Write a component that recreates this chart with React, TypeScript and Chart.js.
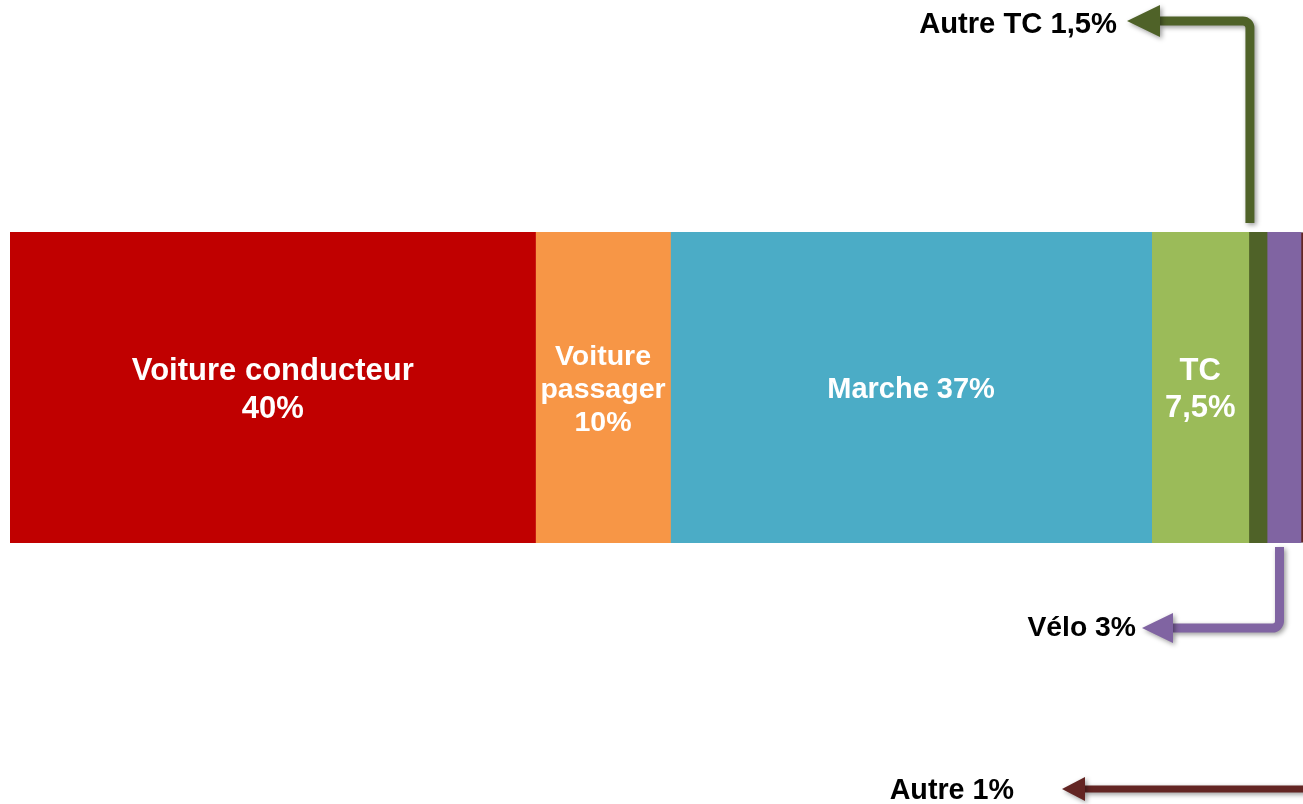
import React, { useEffect, useRef } from "react";
import { Chart, registerables } from "chart.js";

Chart.register(...registerables);

// ---- Data ----
const categories = ["Voiture conducteur", "Voiture passager", "Marche", "TC", "Autre TC", "Vélo", "Autre"];
const shares = [40.3, 10.35, 36.9, 7.45, 1.4, 2.6, 1.0];
const shareLabels = ["40%", "10%", "37%", "7,5%", "1,5%", "3%", "1%"];
const colors = ["#C00000", "#F79646", "#4BACC6", "#9BBB59", "#4F6228", "#8064A2", "#632523"];

// ---- Label layout (styling only) ----
type Inside = { kind: "inside"; wrap: "twoLines" | "words" | "oneLine"; lineHeight: number; size: number };
type Outside = {
  kind: "outside";
  side: "top" | "bottom";
  dxFromCenter: number; // arrow stem offset from segment centre
  stemGap: number; // gap between bar edge and stem end
  turn: number; // distance from bar edge to horizontal arm
  tipX: number; // arrow tip
  textGap: number;
  textDy: number;
  lineWidth: number;
  headLen: number;
  headHalf: number;
  size: number;
};
const labelLayout: (Inside | Outside)[] = [
  { kind: "inside", wrap: "twoLines", lineHeight: 38, size: 31 },
  { kind: "inside", wrap: "words", lineHeight: 33, size: 28.5 },
  { kind: "inside", wrap: "oneLine", lineHeight: 38, size: 29 },
  { kind: "inside", wrap: "twoLines", lineHeight: 37, size: 31 },
  { kind: "outside", side: "top", dxFromCenter: -8, stemGap: 9, turn: 211, tipX: 1127, textGap: 10, textDy: 2, lineWidth: 9, headLen: 33, headHalf: 16, size: 29.2 },
  { kind: "outside", side: "bottom", dxFromCenter: -4.5, stemGap: 4, turn: 85, tipX: 1142, textGap: 6, textDy: -2, lineWidth: 9, headLen: 31, headHalf: 15, size: 28.3 },
  { kind: "outside", side: "bottom", dxFromCenter: 6, stemGap: 4, turn: 246, tipX: 1062, textGap: 48, textDy: 0, lineWidth: 7, headLen: 23, headHalf: 12, size: 28.7 },
];

const FONT_FAMILY = '"Liberation Sans", Arial, Helvetica, sans-serif';

function drawElbowArrow(
  ctx: CanvasRenderingContext2D,
  x0: number,
  y0: number,
  yTurn: number,
  xTip: number,
  color: string,
  lw: number,
  headLen: number,
  headHalf: number
) {
  ctx.save();
  ctx.strokeStyle = color;
  ctx.fillStyle = color;
  ctx.lineWidth = lw;
  ctx.lineCap = "butt";
  ctx.lineJoin = "round";
  ctx.shadowColor = "rgba(0,0,0,0.4)";
  ctx.shadowBlur = 5;
  ctx.shadowOffsetX = 2;
  ctx.shadowOffsetY = 2;
  ctx.beginPath();
  ctx.moveTo(x0, y0);
  ctx.arcTo(x0, yTurn, xTip + headLen, yTurn, 7);
  ctx.lineTo(xTip + headLen - 1, yTurn);
  ctx.stroke();
  ctx.beginPath();
  ctx.moveTo(xTip, yTurn);
  ctx.lineTo(xTip + headLen, yTurn - headHalf);
  ctx.lineTo(xTip + headLen, yTurn + headHalf);
  ctx.closePath();
  ctx.fill();
  ctx.restore();
}

const labelPlugin = {
  id: "segmentLabels",
  afterDatasetsDraw(chart: any) {
    const ctx: CanvasRenderingContext2D = chart.ctx;
    categories.forEach((cat, i) => {
      const el = chart.getDatasetMeta(i).data[0];
      if (!el) return;
      const p = el.getProps(["x", "y", "base", "height"], true);
      const left = Math.min(p.x, p.base);
      const right = Math.max(p.x, p.base);
      const cx = (left + right) / 2;
      const top = p.y - p.height / 2;
      const bottom = p.y + p.height / 2;
      const lay = labelLayout[i];
      if (lay.kind === "inside") {
        let lines: string[];
        if (lay.wrap === "twoLines") lines = [cat, shareLabels[i]];
        else if (lay.wrap === "words") lines = [...cat.split(" "), shareLabels[i]];
        else lines = [cat + " " + shareLabels[i]];
        ctx.save();
        ctx.font = `bold ${lay.size}px ${FONT_FAMILY}`;
        ctx.fillStyle = "#FFFFFF";
        ctx.textAlign = "center";
        ctx.textBaseline = "alphabetic";
        const capH = lay.size * 0.716;
        const n = lines.length;
        lines.forEach((ln, k) => {
          const cy = p.y + (k - (n - 1) / 2) * lay.lineHeight;
          ctx.fillText(ln, cx, cy + capH / 2);
        });
        ctx.restore();
      } else {
        const color = colors[i];
        const sx = cx + lay.dxFromCenter;
        let y0: number, yTurn: number;
        if (lay.side === "top") {
          y0 = top - lay.stemGap;
          yTurn = top - lay.turn;
        } else {
          y0 = bottom + lay.stemGap;
          yTurn = bottom + lay.turn;
        }
        drawElbowArrow(ctx, sx, y0, yTurn, lay.tipX, color, lay.lineWidth, lay.headLen, lay.headHalf);
        ctx.save();
        ctx.font = `bold ${lay.size}px ${FONT_FAMILY}`;
        ctx.fillStyle = "#000000";
        ctx.textAlign = "right";
        ctx.textBaseline = "alphabetic";
        const capH = lay.size * 0.716;
        ctx.fillText(cat + " " + shareLabels[i], lay.tipX - lay.textGap, yTurn + lay.textDy + capH / 2);
        ctx.restore();
      }
    });
  },
};

export default function App() {
  const canvasRef = useRef<HTMLCanvasElement | null>(null);

  useEffect(() => {
    if (!canvasRef.current) return;
    const chart = new Chart(canvasRef.current, {
      type: "bar",
      data: {
        labels: [""],
        datasets: categories.map((c, i) => ({
          label: c,
          data: [shares[i]],
          backgroundColor: colors[i],
          borderColor: i === categories.length - 1 ? "#A6A6A6" : colors[i],
          borderWidth: i === categories.length - 1 ? 1 : 0,
          barPercentage: 1,
          categoryPercentage: 1,
        })),
      },
      options: {
        indexAxis: "y",
        responsive: false,
        maintainAspectRatio: false,
        animation: false,
        events: [],
        layout: { padding: { left: 10, right: 16, top: 232, bottom: 261 } },
        scales: {
          x: { stacked: true, min: 0, max: 100, display: false },
          y: { stacked: true, display: false },
        },
        plugins: {
          legend: { display: false },
          tooltip: { enabled: false },
        },
      },
      plugins: [labelPlugin],
    } as any);
    return () => chart.destroy();
  }, []);

  return (
    <div
      style={{
        position: "fixed",
        left: 0,
        top: 0,
        width: 1303,
        height: 804,
        overflow: "hidden",
        background: "#FFFFFF",
      }}
    >
      <canvas ref={canvasRef} width={1330} height={804} style={{ display: "block" }} />
    </div>
  );
}
